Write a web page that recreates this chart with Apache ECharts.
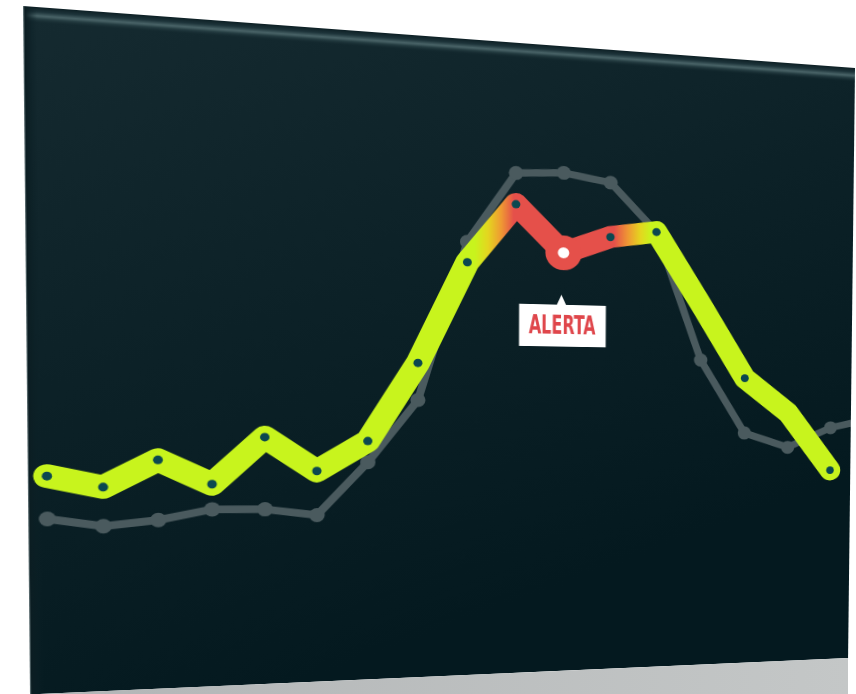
<!DOCTYPE html>
<html>
<head>
<meta charset="utf-8">
<script src="https://cdn.jsdelivr.net/npm/echarts@6/dist/echarts.min.js"></script>
<style>
html,body{margin:0;padding:0;background:#ffffff;width:856px;height:694px;overflow:hidden;}
#floor{position:absolute;left:0;top:0;}
#panel{position:absolute;left:0;top:0;width:832px;height:688px;transform-origin:0 0;}
</style>
</head>
<body>
<svg id="floor" width="856" height="694">
  <defs>
    <linearGradient id="fg" x1="0" y1="0" x2="1" y2="0">
      <stop offset="0" stop-color="#b2b5b6"/>
      <stop offset="1" stop-color="#c4c7c7"/>
    </linearGradient>
  </defs>
  <polygon points="30,694.4 848,658 848,694 30,694" fill="url(#fg)"/>
</svg>
<div id="panel"></div>
<script>
// ---- data ----
const categories = ['S1','S2','S3','S4','S5','S6','S7','S8','S9','S10','S11','S12','S13','S14','S15','S16','S17','S18'];
const baseline = [25.8, 24.6, 25.4, 26.9, 26.8, 25.8, 33.9, 43.6, 68.5, 79.6, 80.0, 78.8, 71.2, 50.5, 38.5, 36.1, 39.4, 41.0];
const current  = [32.1, 30.4, 34.4, 30.7, 37.8, 32.6, 37.2, 49.4, 65.3, 74.7, 67.3, 70.1, 71.2, 59.6, 47.6, 41.9, 32.2, null];
const hiddenDots = [13, 15];
const alertIndex = 10;
const alertText = 'ALERTA';

// ---- styling / layout ----
const W = 832, H = 688;
const corners = [[23, 6], [855, 68], [848, 658], [30, 694.4]]; // TL, TR, BR, BL
const LIME = '#c8f41d', RED = '#e5504a', ORANGE = '#ef9833', YELLOW = '#e4d61f';
const GRAY = '#4a5a5e', DOT = '#0b4850';

function quadMatrix(w, h, q) {
  const [x0, y0] = q[0], [x1, y1] = q[1], [x2, y2] = q[2], [x3, y3] = q[3];
  const dx1 = x1 - x2, dx2 = x3 - x2, dx3 = x0 - x1 + x2 - x3;
  const dy1 = y1 - y2, dy2 = y3 - y2, dy3 = y0 - y1 + y2 - y3;
  const den = dx1 * dy2 - dx2 * dy1;
  const g = (dx3 * dy2 - dx2 * dy3) / den, hh = (dx1 * dy3 - dx3 * dy1) / den;
  const a = x1 - x0 + g * x1, b = x3 - x0 + hh * x3, c = x0;
  const d = y1 - y0 + g * y1, e = y3 - y0 + hh * y3, f = y0;
  return 'matrix3d(' + [a / w, d / w, 0, g / w, b / h, e / h, 0, hh / h, 0, 0, 1, 0, c, f, 0, 1].join(',') + ')';
}

const panel = document.getElementById('panel');
panel.style.transform = quadMatrix(W, H, corners);

const chart = echarts.init(panel, null, { width: W, height: H, renderer: 'canvas' });

const currentData = current.map((v, i) => {
  if (hiddenDots.indexOf(i) >= 0) return { value: v, symbol: 'none' };
  if (i === alertIndex) return { value: v, symbolSize: 25, itemStyle: { color: '#ffffff', borderColor: RED, borderWidth: 13 } };
  return v;
});

chart.setOption({
  animation: false,
  backgroundColor: {
    type: 'linear', x: 0, y: 0, x2: 0.3, y2: 1,
    colorStops: [
      { offset: 0, color: '#152a30' },
      { offset: 0.5, color: '#0c2127' },
      { offset: 1, color: '#04191f' }
    ]
  },
  grid: { left: 16.7, right: -25.7, top: 0, bottom: 0, outerBoundsMode: 'none', containLabel: false },
  xAxis: { type: 'category', data: categories, boundaryGap: false, show: false },
  yAxis: { type: 'value', min: 0, max: 100, show: false },
  series: [
    {
      type: 'line', name: 'base', data: baseline, clip: false, z: 2,
      symbol: 'circle', symbolSize: 15, showAllSymbol: true,
      lineStyle: { color: GRAY, width: 8, cap: 'round', join: 'round' },
      itemStyle: { color: GRAY }
    },
    {
      type: 'line', name: 'actual', data: currentData, clip: false, z: 3,
      symbol: 'circle', symbolSize: 9, showAllSymbol: true,
      lineStyle: { color: LIME, width: 24, cap: 'round', join: 'round' },
      itemStyle: { color: DOT }
    }
  ]
});

// gradient along the line & alert label, positioned from the data
const n = current.length - 2; // last index with a value
const px = i => chart.convertToPixel({ xAxisIndex: 0 }, i);
const x0 = px(0), x1 = px(n);
const off = t => Math.min(1, Math.max(0, t / n));
const s1 = 8, s2 = 11;
const grad = {
  type: 'linear', x: x0, y: 0, x2: x1, y2: 0, global: true,
  colorStops: [
    { offset: 0, color: LIME },
    { offset: off(s1 + 0.15), color: LIME },
    { offset: off(s1 + 0.42), color: YELLOW },
    { offset: off(s1 + 0.70), color: ORANGE },
    { offset: off(s1 + 0.95), color: RED },
    { offset: off(s2 + 0.08), color: RED },
    { offset: off(s2 + 0.38), color: ORANGE },
    { offset: off(s2 + 0.65), color: YELLOW },
    { offset: off(s2 + 0.88), color: LIME },
    { offset: 1, color: LIME }
  ]
};

const ap = chart.convertToPixel({ xAxisIndex: 0, yAxisIndex: 0 }, [alertIndex, current[alertIndex]]);
const font = "bold 29px 'DejaVu Sans Condensed','Liberation Sans Narrow','Roboto Condensed','DejaVu Sans',sans-serif";
const ctx = document.createElement('canvas').getContext('2d');
ctx.font = font;
const tw = ctx.measureText(alertText).width;
const sx = 70 / tw;

chart.setOption({
  series: [{}, { lineStyle: { color: grad } }],
  graphic: [
    {
      type: 'rect', z: 0, silent: true,
      shape: { x: 0, y: 0, width: W, height: 16 },
      style: {
        fill: {
          type: 'linear', x: 0, y: 0, x2: 0, y2: 1,
          colorStops: [
            { offset: 0, color: '#0d1f24' },
            { offset: 0.3, color: '#1d343a' },
            { offset: 0.55, color: '#4a6468' },
            { offset: 0.72, color: '#263e43' },
            { offset: 1, color: 'rgba(21,42,48,0)' }
          ]
        }
      }
    },
    {
      type: 'rect', z: 0, silent: true,
      shape: { x: 0, y: 0, width: 12, height: H },
      style: {
        fill: {
          type: 'linear', x: 0, y: 0, x2: 1, y2: 0,
          colorStops: [
            { offset: 0, color: '#7d8e91' },
            { offset: 0.12, color: '#0b1d22' },
            { offset: 1, color: 'rgba(12,33,39,0)' }
          ]
        }
      }
    },
    {
      type: 'group', x: ap[0], y: ap[1], z: 10,
      children: [
        { type: 'polygon', shape: { points: [[-2, 46], [-7, 57.5], [3, 57.5]] }, style: { fill: '#ffffff' } },
        { type: 'rect', shape: { x: -46, y: 57, width: 91, height: 46 }, style: { fill: '#ffffff' } },
        {
          type: 'text', x: -1, y: 81, scaleX: sx, scaleY: 1,
          style: { text: alertText, font: font, fill: '#df464b', align: 'center', verticalAlign: 'middle' }
        }
      ]
    }
  ]
});
</script>
</body>
</html>
